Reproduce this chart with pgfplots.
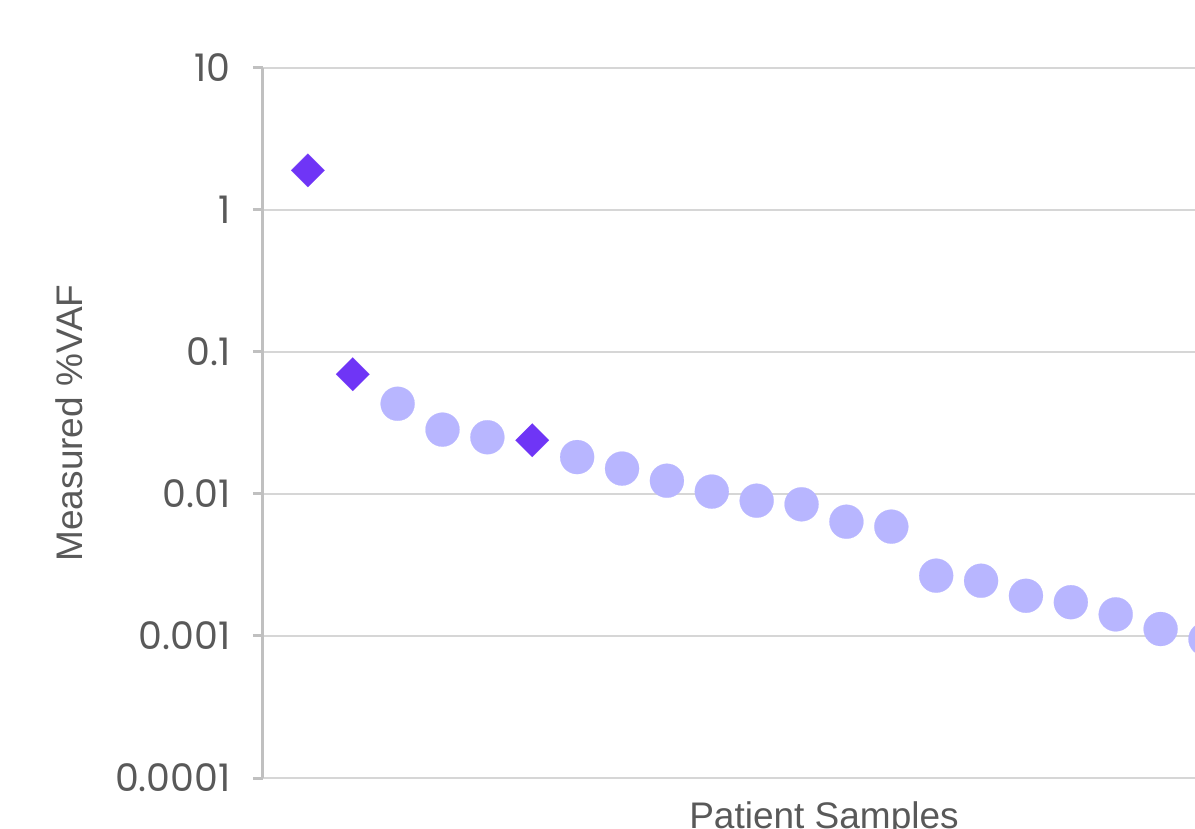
\documentclass[border=0pt]{standalone}
\usepackage{fontspec}
\setmainfont{Liberation Sans}
\newfontfamily\tickfont{Poppins}
\usepackage{pgfplots}
\pgfplotsset{compat=1.18}
\definecolor{gridgray}{HTML}{D6D6D6}
\definecolor{axisgray}{HTML}{C0C0C0}
\definecolor{txtgray}{HTML}{595959}
\definecolor{dpurple}{HTML}{6F35F6}
\definecolor{lpurple}{HTML}{B8B6FF}
\begin{document}
\begin{tikzpicture}
\begin{axis}[
  at={(131.5pt,25.5pt)}, anchor=south west,
  scale only axis, width=561pt, height=355pt,
  xmin=0, xmax=25, ymode=log, ymin=1e-4, ymax=10,
  axis lines*=left, axis line style={-},
  x axis line style={draw=none},
  y axis line style={draw=axisgray, line width=1.5pt},
  xtick=\empty,
  ytick={1e-4,1e-3,1e-2,1e-1,1,10},
  yticklabels={0.0001,0.001,0.01,0.1,1,10},
  yminorticks=false,
  tick align=outside, major tick length=5pt,
  every tick/.style={draw=axisgray, line width=1.5pt},
  ymajorgrids, major grid style={draw=gridgray, line width=1.3pt},
  yticklabel style={font=\tickfont\fontsize{19}{19}\selectfont, text=txtgray, anchor=east, inner sep=0pt, xshift=-11pt},
  ylabel={Measured \%VAF},
  ylabel style={at={(axis description cs:-0.1729,0.5)}, anchor=center, font=\fontsize{18.5}{18.5}\selectfont, text=txtgray},
  xlabel={Patient Samples},
  xlabel style={at={(axis description cs:0.5,0)}, anchor=base, yshift=-25pt, font=\fontsize{18.5}{18.5}\selectfont, text=txtgray},
]
\addplot[only marks, color=lpurple, mark=*, mark size=8.5pt, mark options={draw=lpurple, fill=lpurple, line width=0.1pt}] coordinates {
 (3,0.0432) (4,0.0284) (5,0.0251) (7,0.0182) (8,0.0151) (9,0.0124) (10,0.0104)
 (11,0.00897) (12,0.00846) (13,0.00638) (14,0.00589) (15,0.00266) (16,0.00245)
 (17,0.00192) (18,0.00173) (19,0.00142) (20,0.00112) (21,0.00095)
};
\addplot[only marks, color=dpurple, mark=square*, mark size=5.9pt, mark options={rotate=45, draw=dpurple, fill=dpurple, line width=0.1pt}] coordinates {
 (1,1.90) (2,0.0697) (6,0.0239)
};
\end{axis}
\pgfresetboundingbox
\useasboundingbox (0,0) rectangle (597.5pt,414.5pt);
\end{tikzpicture}
\end{document}
